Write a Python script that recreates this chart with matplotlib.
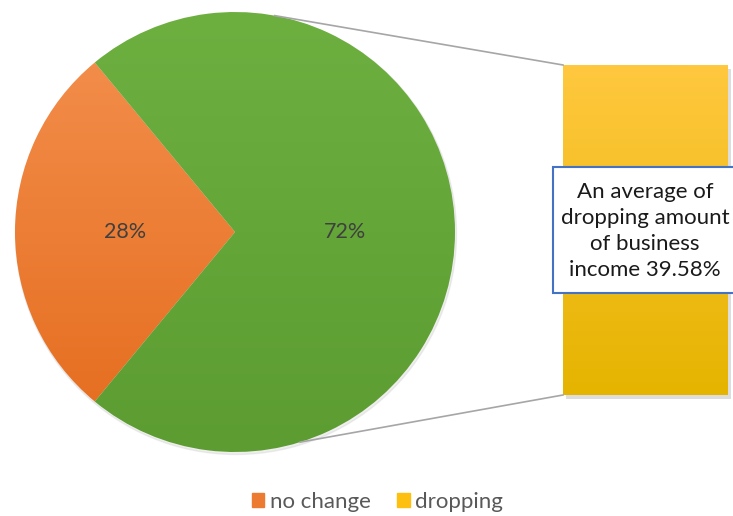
import numpy as np
import matplotlib
matplotlib.use("Agg")
import matplotlib.pyplot as plt
from matplotlib.patches import Rectangle
from matplotlib.colors import LinearSegmentedColormap

plt.rcParams['font.family'] = ['Lato', 'DejaVu Sans']

# data
pie_labels = ["no change", "dropping"]
pie_values = [28, 72]
bar_value = 72
note = "An average of\ndropping amount\nof business\nincome 39.58%"

W, H = 733, 516
fig = plt.figure(figsize=(W / 100, H / 100), dpi=100)
ax = fig.add_axes([0, 0, 1, 1])
ax.set_xlim(0, W)
ax.set_ylim(0, H)
ax.set_aspect('equal')
ax.axis('off')

cx, cy, r = 235, 284, 220
start = 180 - pie_values[0] / sum(pie_values) * 360 / 2

# soft shadow under the pie
ax.add_patch(plt.Circle((cx + 1, cy - 2), r + 0.5, color='#c8c8c8', alpha=0.3, zorder=0))

wedges, _ = ax.pie(pie_values, center=(cx, cy), radius=r, startangle=start,
                   counterclock=True, frame=True,
                   wedgeprops=dict(linewidth=0))
ax.set_xlim(0, W)
ax.set_ylim(0, H)
ax.axis('off')

grads = [('#F4914F', '#E46B1C'), ('#6DB040', '#5C9C31')]
for w, (c1, c2) in zip(wedges, grads):
    w.set_facecolor('none')
    cmap = LinearSegmentedColormap.from_list('g', [c2, c1])
    img = ax.imshow(np.linspace(0, 1, 256).reshape(-1, 1), cmap=cmap,
                    extent=[cx - r, cx + r, cy - r, cy + r], origin='lower',
                    aspect='auto', zorder=1)
    img.set_clip_path(w)

# percentage labels
for w, v in zip(wedges, pie_values):
    ang = np.deg2rad((w.theta1 + w.theta2) / 2)
    ax.text(cx + 0.5 * r * np.cos(ang), cy + 0.5 * r * np.sin(ang), f"{v}%",
            ha='center', va='center', fontsize=15.5, color='#404040', zorder=3)

# stacked bar for the "dropping" slice
bx0, bx1, by0, by1 = 563, 728, 121, 451
ax.add_patch(Rectangle((bx0 + 3, by0 - 4), bx1 - bx0, by1 - by0,
                       facecolor='#a0a0a0', alpha=0.35, lw=0, zorder=1))
bh = (by1 - by0) * bar_value / bar_value
ymap = LinearSegmentedColormap.from_list('y', ['#E5B400', '#FFC83F'])
ax.imshow(np.linspace(0, 1, 256).reshape(-1, 1), cmap=ymap,
          extent=[bx0, bx1, by0, by0 + bh], origin='lower', aspect='auto', zorder=2)

# connector lines
a_top, a_bot = np.deg2rad(79.6), np.deg2rad(-72.8)
ax.plot([cx + r * np.cos(a_top), bx0], [cy + r * np.sin(a_top), by1],
        color='#a6a6a6', lw=1.2, zorder=2)
ax.plot([cx + r * np.cos(a_bot), bx0], [cy + r * np.sin(a_bot), by0],
        color='#a6a6a6', lw=1.2, zorder=2)

# note box
ax.add_patch(Rectangle((553, 223), 185, 126, facecolor='white',
                       edgecolor='#4472C4', lw=1.5, zorder=4))
ax.text(645, 285, note, ha='center', va='center', fontsize=16,
        color='#1a1a1a', linespacing=1.36, zorder=5)

# legend
handles = [Rectangle((0, 0), 1, 1, color='#EC7A30'),
           Rectangle((0, 0), 1, 1, color='#FDC010')]
fig.legend(handles, pie_labels, loc='center', bbox_to_anchor=(0.515, 14 / H),
           ncol=2, frameon=False, fontsize=16, labelcolor='#595959',
           handlelength=0.55, handleheight=0.55, handletextpad=0.25,
           columnspacing=1.2)

fig.savefig('out.png', dpi=100)
